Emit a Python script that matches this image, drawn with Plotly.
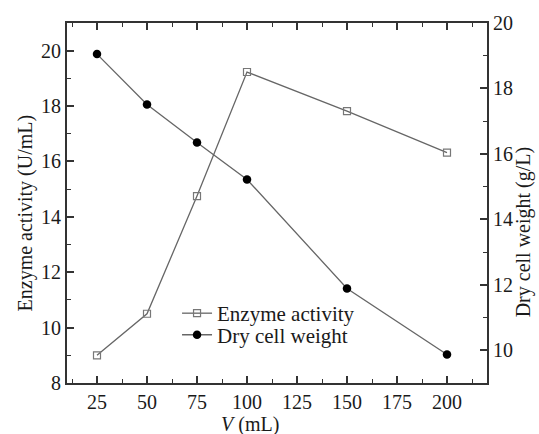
import plotly.graph_objects as go

volume = [25, 50, 75, 100, 150, 200]
enzyme_activity = [9.0, 10.5, 14.75, 19.23, 17.82, 16.32]
dry_cell_weight = [19.05, 17.51, 16.35, 15.22, 11.89, 9.87]

left_ticks = [8, 10, 12, 14, 16, 18, 20]
right_ticks = [10, 12, 14, 16, 18, 20]
x_ticks = [25, 50, 75, 100, 125, 150, 175, 200]

FONT = "Liberation Serif, Times New Roman, serif"
AX = "#333333"
TXT = "#1a1a1a"

fig = go.Figure()
fig.add_trace(go.Scatter(
    x=volume, y=enzyme_activity, name="Enzyme activity", mode="lines+markers",
    line=dict(color="#666666", width=1.3),
    marker=dict(symbol="square-open", size=7, color="#777777", line=dict(width=1.2)),
    yaxis="y", legend="legend",
))
fig.add_trace(go.Scatter(
    x=volume, y=dry_cell_weight, name="Dry cell weight", mode="lines+markers",
    line=dict(color="#666666", width=1.3),
    marker=dict(symbol="circle", size=8.5, color="#000000"),
    yaxis="y2", legend="legend2",
))

common = dict(ticks="inside", ticklen=7, tickwidth=1.5, tickcolor=AX,
              showline=True, linecolor=AX, linewidth=2, showgrid=False, zeroline=False,
              tickfont=dict(family=FONT, size=20, color=TXT))

leg = dict(xanchor="left", yanchor="middle", font=dict(family=FONT, size=21, color=TXT),
           bgcolor="rgba(0,0,0,0)", itemwidth=30, borderwidth=0)

fig.update_layout(
    width=539, height=434,
    margin=dict(l=67, r=52, t=16, b=51),
    paper_bgcolor="white", plot_bgcolor="white",
    showlegend=True,
    legend=dict(x=0.262, y=0.193, **leg),
    legend2=dict(x=0.262, y=0.133, **leg),
    xaxis=dict(range=[10, 220], tickvals=x_ticks, mirror="ticks",
               minor=dict(ticks="inside", ticklen=4, tickwidth=1.2, tickcolor=AX, dtick=12.5, tick0=12.5),
               **common),
    yaxis=dict(range=[8, 21], tickvals=left_ticks,
               minor=dict(ticks="inside", ticklen=4, tickwidth=1.2, tickcolor=AX, dtick=1),
               **common),
    yaxis2=dict(range=[9.0, 20], tickvals=right_ticks, overlaying="y", side="right",
                minor=dict(ticks="inside", ticklen=4, tickwidth=1.2, tickcolor=AX, dtick=1),
                **common),
    annotations=[
        dict(text="Enzyme activity (U/mL)", xref="paper", yref="paper", x=-0.1, y=0.471,
             xanchor="center", yanchor="middle", textangle=-90, showarrow=False,
             font=dict(family=FONT, size=20, color=TXT)),
        dict(text="Dry cell weight (g/L)", xref="paper", yref="paper", x=1.087, y=0.42,
             xanchor="center", yanchor="middle", textangle=-90, showarrow=False,
             font=dict(family=FONT, size=20, color=TXT)),
        dict(text="<i>V</i> (mL)", xref="paper", yref="paper", x=0.436, y=-0.115,
             xanchor="center", yanchor="middle", showarrow=False,
             font=dict(family=FONT, size=20, color=TXT)),
    ],
)

fig.write_html("out.html")
